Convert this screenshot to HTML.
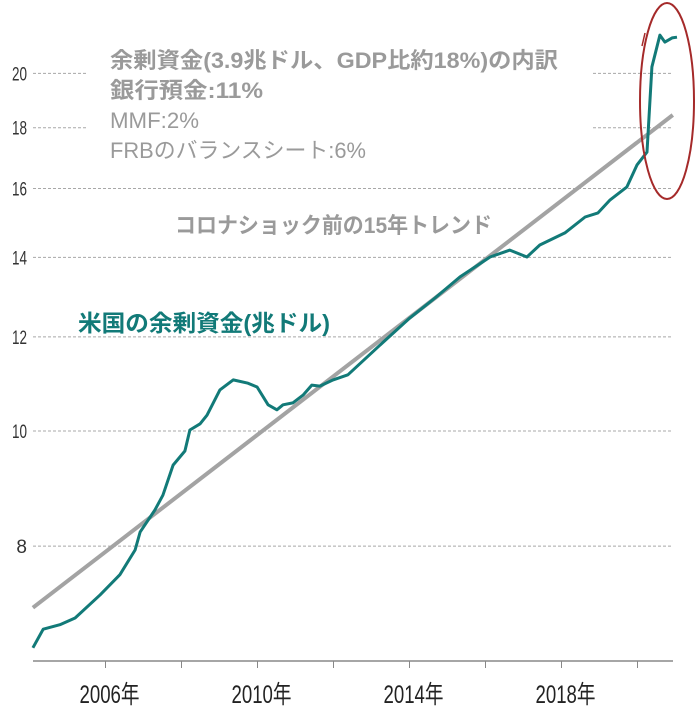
<!DOCTYPE html>
<html><head><meta charset="utf-8">
<style>
html,body{margin:0;padding:0;background:#fff;}
svg{display:block;}
text{font-family:"Liberation Sans","Noto Sans CJK JP",sans-serif;}
</style></head>
<body>
<svg id="chart" width="699" height="706" viewBox="0 0 699 706" xmlns="http://www.w3.org/2000/svg">
<g id="grid"></g>
<g id="ylabels"></g>
<g id="xaxis"></g>
<g id="series"></g>
<g fill="#9a9a9a" font-size="22">
<text x="110" y="68" font-weight="bold" textLength="448" lengthAdjust="spacingAndGlyphs">余剰資金(3.9兆ドル、GDP比約18%)の内訳</text>
<text x="110" y="98" font-weight="bold" textLength="153" lengthAdjust="spacingAndGlyphs">銀行預金:11%</text>
<text x="110" y="128" textLength="89" lengthAdjust="spacingAndGlyphs">MMF:2%</text>
<text x="110" y="158" textLength="256" lengthAdjust="spacingAndGlyphs">FRBのバランスシート:6%</text>
</g>
<text x="175" y="233" fill="#9a9a9a" font-size="22" font-weight="bold" textLength="317" lengthAdjust="spacingAndGlyphs">コロナショック前の15年トレンド</text>
<text x="78" y="331" fill="#127a78" font-size="23" font-weight="bold" textLength="252" lengthAdjust="spacingAndGlyphs">米国の余剰資金(兆ドル)</text>
<ellipse cx="667" cy="101" rx="27" ry="98" fill="none" stroke="#a52a2a" stroke-width="2"/>
<line x1="645" y1="33" x2="642" y2="46" stroke="#a52a2a" stroke-width="1.5"/>
</svg>
<script>
const yTicks = [8, 10, 12, 14, 16, 18, 20];
const xTickYears = [2006, 2008, 2010, 2012, 2014, 2016, 2018, 2020];
const xLabelYears = [2006, 2010, 2014, 2018];
const surplusTimes = [2004.09,2004.36,2004.80,2005.20,2005.86,2006.38,2006.78,2006.91,2007.30,2007.51,2007.78,2008.09,2008.22,2008.49,2008.67,2009.01,2009.36,2009.75,2009.99,2010.28,2010.51,2010.67,2010.93,2011.20,2011.43,2011.64,2011.99,2012.38,2013.22,2014.01,2014.67,2015.33,2016.12,2016.64,2017.09,2017.43,2018.09,2018.62,2018.96,2019.28,2019.72,2019.99,2020.25,2020.38,2020.59,2020.72,2020.91,2021.04];
const surplusValues = [6.57,6.81,6.87,6.96,7.28,7.57,7.94,8.22,8.58,8.83,9.36,9.62,10.02,10.14,10.31,10.83,11.04,10.97,10.89,10.52,10.42,10.52,10.56,10.72,10.93,10.91,11.04,11.15,11.81,12.45,12.94,13.48,14.01,14.20,14.01,14.34,14.68,15.14,15.26,15.65,16.05,16.75,17.17,20.25,21.54,21.25,21.42,21.45];
const trendTimes = [2004.09, 2020.93];
const trendValues = [7.10, 18.45];

const NS = "http://www.w3.org/2000/svg";
function X(t){ return 105.5 + 38*(t-2006); }
function Y(v){ return 431 - 516*Math.log(v/10); }
function mk(tag, attrs, parent){
  const e = document.createElementNS(NS, tag);
  for (const k in attrs) e.setAttribute(k, attrs[k]);
  parent.appendChild(e); return e;
}
const grid = document.getElementById('grid');
const yl = document.getElementById('ylabels');
yTicks.forEach(v => {
  const y = Y(v);
  const segs = v >= 18 ? [[33,88],[593,673]] : [[33,673]];
  segs.forEach(s => {
    const l = mk('line', {x1:s[0], x2:s[1], y1:y, y2:y, stroke:'#a8a8a8', 'stroke-width':1, 'stroke-dasharray':'3,2'}, grid);
    
    
  });
  const attrs = {x:27, y:y+7, 'text-anchor':'end', 'font-size':19, fill:'#333'};
  if (v >= 10) { attrs.textLength = 15; attrs.lengthAdjust = 'spacingAndGlyphs'; }
  const t = mk('text', attrs, yl);
  t.textContent = v;
  
  
});
const xa = document.getElementById('xaxis');
const axl = mk('line', {x1:33, x2:673, y1:661, y2:661, stroke:'#888', 'stroke-width':1.5}, xa);


xTickYears.forEach(yr => {
  const tk = mk('line', {x1:X(yr), x2:X(yr), y1:661, y2:668, stroke:'#888', 'stroke-width':1}, xa);
  
  
});
xLabelYears.forEach(yr => {
  const t = mk('text', {x:X(yr)+4, y:703, 'text-anchor':'middle', 'font-size':25, fill:'#222', textLength:60, lengthAdjust:'spacingAndGlyphs'}, xa);
  t.textContent = yr + '年';
  
  
});
const ser = document.getElementById('series');
const tp = trendTimes.map((t,i)=>X(t).toFixed(1)+','+Y(trendValues[i]).toFixed(1)).join(' ');
const trend = mk('polyline', {points:tp, fill:'none', stroke:'#a3a3a3', 'stroke-width':4}, ser);


const sp = surplusTimes.map((t,i)=>X(t).toFixed(1)+','+Y(surplusValues[i]).toFixed(1)).join(' ');
const line = mk('polyline', {points:sp, fill:'none', stroke:'#127a78', 'stroke-width':3, 'stroke-linejoin':'round'}, ser);


</script>
</body></html>
